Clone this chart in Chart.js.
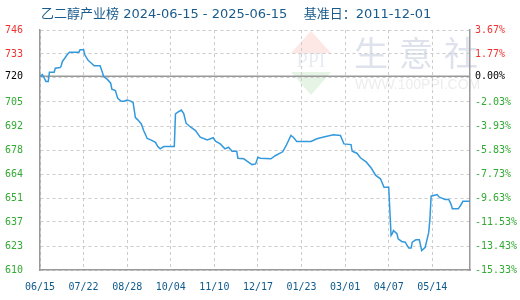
<!DOCTYPE html>
<html><head><meta charset="utf-8">
<script src="https://cdn.jsdelivr.net/npm/chart.js@4"></script>
<style>html,body{margin:0;padding:0;background:#fff}#wrap{width:520px;height:300px;position:relative}</style>
</head><body><div id="wrap"><canvas id="c"></canvas></div>
<script>
const titleText = '乙二醇产业榜 2024-06-15 - 2025-06-15    基准日：2011-12-01';
const baseValue = 720;
const dayIndex = [0,2,3,5,7,8,12,13,17,18,
 19,21,23,25,33,34,37,38,41,43,
 46,51,53,54,57,60,61,64,65,66,
 69,71,74,77,79,81,83,86,88,91,
 94,98,100,102,105,114,115,117,120,122,
 124,128,132,136,142,147,149,153,157,160,
 163,167,168,173,176,180,183,185,187,196,
 200,206,209,213,215,218,230,235,240,249,
 255,258,264,265,269,272,277,281,285,289,
 292,296,298,299,300,303,304,307,310,313,
 315,316,319,322,324,327,328,330,331,332,
 337,339,344,347,349,350,355,357,359,365];
const prices = [720,721,719.9,717.1,717.1,722.4,722.4,724.6,725,726,
 728.5,730.3,732.3,733.8,733.8,735.1,735.1,732.3,729,727.9,
 726,726,722.2,719.9,718.4,716.1,712.7,711.9,709.6,707.5,
 705.8,705.8,706.5,705.9,705.1,696.5,695.2,692.9,689.1,684.6,
 683.8,682.4,680,678.7,680,680,698.6,699.6,700.8,698.8,
 693.3,691,689.1,685.3,683.8,685,683,681.5,678.7,679.6,
 677.3,677.3,673.3,673,671.6,669.7,670.1,673.9,673.3,673,
 674.9,677,680.6,686.3,685.3,682.9,682.9,684.4,685.3,686.7,
 686.3,681.5,681.1,677.3,676.2,673.6,671.1,667.9,663.5,661.6,
 656.8,656.8,629.3,630.3,632.1,630.3,627.4,625.9,625.5,622.1,
 622.1,625.5,626.8,626.8,620.7,622.6,625.5,631.2,638.9,651.7,
 652.6,651.1,649.8,649.8,646.9,644.5,644.5,646.4,648.8,648.8];
const xTickDays = [0,37,74,111,148,185,222,259,296,333];
const xTickLabels = ['06/15','07/22','08/28','10/04','11/10','12/17','01/23','03/01','04/07','05/14'];
const gridPercents = [3.67,1.77,-0.13,-2.03,-3.93,-5.83,-7.73,-9.63,-11.53,-13.43,-15.33];
const labelPercents = [3.67,1.77,0,-2.03,-3.93,-5.83,-7.73,-9.63,-11.53,-13.43,-15.33];
const leftLabels = ['746','733','720','705','692','678','664','651','637','623','610'];
const rightLabels = ['3.67%','1.77%','0.00%','-2.03%','-3.93%','-5.83%','-7.73%','-9.63%','-11.53%','-13.43%','-15.33%'];

const pv = p => baseValue * (1 + p / 100);
const yMax = pv(gridPercents[0]);
const yMin = pv(gridPercents[gridPercents.length - 1]);
const labelIdx = v => labelPercents.findIndex(p => Math.abs(pv(p) - v) < 0.005);
const tickColor = v => Math.abs(v - baseValue) < 0.005 ? '#000' : (v > baseValue ? '#ee3333' : '#33aa33');
const buildY = s => { s.ticks = gridPercents.map(p => ({value: pv(p)})).concat([{value: baseValue}]); };
const monoFont = {family: '"DejaVu Sans Mono", monospace', size: 10};

const decor = {
  id: 'decor',
  beforeDraw(chart) {
    const ctx = chart.ctx;
    ctx.save();
    ctx.fillStyle = '#fff';
    ctx.fillRect(0, 0, chart.width, chart.height);
    // watermark
    ctx.fillStyle = 'rgba(240,110,95,0.16)';
    ctx.beginPath(); ctx.moveTo(291, 53); ctx.lineTo(331, 53); ctx.lineTo(311, 31); ctx.closePath(); ctx.fill();
    ctx.fillStyle = 'rgba(110,195,110,0.18)';
    ctx.beginPath(); ctx.moveTo(291, 72); ctx.lineTo(331, 72); ctx.lineTo(311, 95); ctx.closePath(); ctx.fill();
    ctx.fillStyle = 'rgba(170,185,210,0.28)';
    ctx.font = '20px "Liberation Serif"';
    ctx.textAlign = 'center'; ctx.textBaseline = 'middle';
    ctx.fillText('PPI', 311, 62);
    ctx.fillStyle = 'rgba(170,183,208,0.4)';
    ctx.font = '34px "Noto Sans CJK SC"';
    ctx.fillText('生', 371, 53);
    ctx.fillText('意', 416, 53);
    ctx.fillText('社', 461, 53);
    ctx.fillStyle = 'rgba(200,200,200,0.35)';
    ctx.font = '14px "Liberation Sans"';
    ctx.textAlign = 'left';
    ctx.fillText('WWW.100PPI.COM', 355, 85);
    // title
    ctx.fillStyle = '#1a5b8c';
    ctx.font = '13px "DejaVu Sans", "Noto Sans CJK SC"';
    ctx.textAlign = 'left'; ctx.textBaseline = 'middle';
    ctx.fillText(titleText, 41, 15);
    ctx.restore();
  },
  beforeDatasetsDraw(chart) {
    const ctx = chart.ctx, a = chart.chartArea;
    const y = chart.scales.y.getPixelForValue(baseValue);
    ctx.save();
    ctx.strokeStyle = '#999'; ctx.lineWidth = 1.5;
    ctx.beginPath(); ctx.moveTo(a.left, y); ctx.lineTo(a.right, y); ctx.stroke();
    ctx.restore();
  }
};

new Chart(document.getElementById('c'), {
  type: 'line',
  data: {
    datasets: [{
      data: dayIndex.map((d, i) => ({x: d, y: prices[i]})),
      borderColor: '#3399dd', borderWidth: 1.5, pointRadius: 0, tension: 0, fill: false
    }]
  },
  options: {
    responsive: true, maintainAspectRatio: false, animation: false,
    devicePixelRatio: 1,
    layout: {padding: {top: 30, left: 0, right: 0, bottom: 0}},
    plugins: {legend: {display: false}, title: {display: false}, tooltip: {enabled: false}},
    scales: {
      x: {
        type: 'linear', min: 0, max: 365,
        afterBuildTicks: s => { s.ticks = xTickDays.map(v => ({value: v})); },
        afterFit: s => { s.height = 30; },
        ticks: {autoSkip: false, maxRotation: 0, padding: 11, color: '#0e5a8c', font: monoFont,
          callback: (v) => { const i = xTickDays.indexOf(v); return i >= 0 ? xTickLabels[i] : ''; }},
        grid: {color: '#cccccc', lineWidth: 1, drawTicks: false},
        border: {color: '#999', width: 1.5, dash: [3, 3]}
      },
      y: {
        type: 'linear', position: 'left', min: yMin, max: yMax,
        afterBuildTicks: buildY,
        afterFit: s => { s.width = 40; },
        ticks: {autoSkip: false, padding: 17, font: monoFont,
          color: c => tickColor(c.tick.value),
          callback: (v) => { const i = labelIdx(v); return i >= 0 ? leftLabels[i] : ''; }},
        grid: {color: c => Math.abs(c.tick.value - baseValue) < 0.005 ? 'rgba(0,0,0,0)' : '#cccccc', lineWidth: 1, drawTicks: false},
        border: {color: '#999', width: 1.5, dash: [3, 3]}
      },
      y2: {
        type: 'linear', position: 'right', min: yMin, max: yMax,
        afterBuildTicks: buildY,
        afterFit: s => { s.width = 50; },
        ticks: {autoSkip: false, padding: 5, font: monoFont,
          color: c => tickColor(c.tick.value),
          callback: (v) => { const i = labelIdx(v); return i >= 0 ? rightLabels[i] : ''; }},
        grid: {display: false, drawTicks: false},
        border: {color: '#999', width: 1.5}
      }
    }
  },
  plugins: [decor]
});
</script></body></html>
